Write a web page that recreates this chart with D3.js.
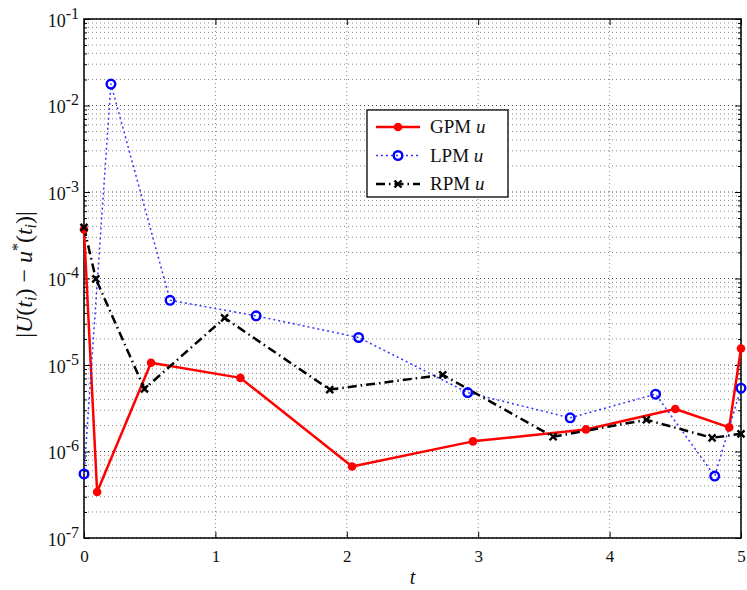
<!DOCTYPE html>
<html>
<head>
<meta charset="utf-8">
<script src="https://cdn.jsdelivr.net/npm/d3@7/dist/d3.min.js"></script>
<style>
  html, body { margin: 0; padding: 0; background: #fff; }
  svg { display: block; }
  text { font-family: "Liberation Serif", "DejaVu Serif", serif; fill: #111; }
</style>
</head>
<body>
<svg id="chart" width="747" height="590"></svg>
<script>
// Error of each method at the collocation times t_i
const gpmT = [0, 0.10, 0.51, 1.19, 2.04, 2.96, 3.82, 4.50, 4.91, 5.0];
const gpmU = [3.7e-4, 3.4e-7, 1.06e-5, 7.1e-6, 6.7e-7, 1.31e-6, 1.8e-6, 3.1e-6, 1.9e-6, 1.55e-5];

const lpmT = [0, 0.205, 0.655, 1.31, 2.09, 2.92, 3.70, 4.35, 4.80, 5.0];
const lpmU = [5.5e-7, 1.77e-2, 5.6e-5, 3.7e-5, 2.08e-5, 4.8e-6, 2.45e-6, 4.6e-6, 5.2e-7, 5.4e-6];

const rpmT = [0, 0.09, 0.46, 1.07, 1.87, 2.73, 3.57, 4.28, 4.78, 5.0];
const rpmU = [3.9e-4, 9.9e-5, 5.3e-6, 3.5e-5, 5.2e-6, 7.7e-6, 1.48e-6, 2.33e-6, 1.44e-6, 1.6e-6];

const xTicks = [0, 1, 2, 3, 4, 5];
const yExponents = [-7, -6, -5, -4, -3, -2, -1];
const seriesNames = ["GPM", "LPM", "RPM"];

const svg = d3.select("#chart");
const pL = 84, pR = 741, pT = 19, pB = 538;
const FONT = "'Liberation Serif', 'DejaVu Serif', serif";

const x = d3.scaleLinear().domain([0, 5]).range([pL, pR]);
const y = d3.scaleLog().domain([1e-7, 1e-1]).range([pB, pT]);

// minor log positions (2..9 x 10^k)
const minor = [];
for (let e = -7; e < -1; e++) for (let m = 2; m <= 9; m++) minor.push(m * Math.pow(10, e));
const majors = yExponents.map(e => Math.pow(10, e));

// grid
const grid = svg.append("g");
grid.selectAll(".hmin").data(minor).join("line")
  .attr("x1", pL).attr("x2", pR)
  .attr("y1", d => y(d)).attr("y2", d => y(d))
  .attr("stroke", "#888").attr("stroke-width", 1).attr("stroke-dasharray", "1,3");
grid.selectAll(".hmaj").data(majors).join("line")
  .attr("x1", pL).attr("x2", pR)
  .attr("y1", d => y(d)).attr("y2", d => y(d))
  .attr("stroke", "#444").attr("stroke-width", 1).attr("stroke-dasharray", "1,3");
grid.selectAll(".vmaj").data(xTicks).join("line")
  .attr("x1", d => x(d)).attr("x2", d => x(d))
  .attr("y1", pT).attr("y2", pB)
  .attr("stroke", "#888").attr("stroke-width", 1).attr("stroke-dasharray", "1,3");

// axes
const axes = svg.append("g");
const xAxis = axes.append("g").attr("transform", `translate(0,${pB})`)
  .call(d3.axisBottom(x).tickValues(xTicks).tickSizeInner(-6).tickSizeOuter(0).tickPadding(12).tickFormat(d3.format("d")));
axes.append("g").attr("transform", `translate(0,${pT})`)
  .call(d3.axisTop(x).tickValues(xTicks).tickSizeInner(-6).tickSizeOuter(0).tickFormat(""));

const yAxis = axes.append("g").attr("transform", `translate(${pL},0)`)
  .call(d3.axisLeft(y).tickValues(majors).tickSizeInner(-6).tickSizeOuter(0).tickPadding(9).tickFormat(""));
axes.append("g").attr("transform", `translate(${pL},0)`)
  .call(d3.axisLeft(y).tickValues(minor).tickSizeInner(-3).tickSizeOuter(0).tickFormat(""));
axes.append("g").attr("transform", `translate(${pR},0)`)
  .call(d3.axisRight(y).tickValues(majors).tickSizeInner(-6).tickSizeOuter(0).tickFormat(""));
axes.append("g").attr("transform", `translate(${pR},0)`)
  .call(d3.axisRight(y).tickValues(minor).tickSizeInner(-3).tickSizeOuter(0).tickFormat(""));

axes.selectAll(".domain").remove();
axes.selectAll(".tick line").attr("stroke", "#000").attr("stroke-width", 1);

xAxis.selectAll(".tick text").style("font-size", "17px").attr("fill", "#111")
  .style("font-family", FONT);

// y tick labels as 10 with superscript exponent
yAxis.selectAll(".tick").each(function(d) {
  const t = d3.select(this).select("text")
    .attr("x", -5).attr("dy", "0.4em")
    .attr("text-anchor", "end")
    .style("font-size", "18px").style("font-family", FONT).attr("fill", "#111");
  t.text(null);
  t.append("tspan").text("10");
  t.append("tspan").attr("dy", "-0.5em").style("font-size", "16px").text(String(Math.round(Math.log10(d))));
});

// frame
svg.append("rect").attr("x", pL).attr("y", pT).attr("width", pR - pL).attr("height", pB - pT)
  .attr("fill", "none").attr("stroke", "#000").attr("stroke-width", 1.5);

// axis titles
svg.append("text").attr("x", x(2.5)).attr("y", 584).attr("text-anchor", "middle")
  .style("font-size", "20px").style("font-style", "italic").style("font-family", FONT).text("t");

const yl = svg.append("text").attr("transform", `translate(32,${(pT + pB) / 2 - 4}) rotate(-90)`)
  .attr("text-anchor", "middle").style("font-size", "24px").style("font-family", FONT);
yl.append("tspan").text("|");
yl.append("tspan").style("font-style", "italic").text("U");
yl.append("tspan").text("(");
yl.append("tspan").style("font-style", "italic").text("t");
yl.append("tspan").style("font-style", "italic").style("font-size", "16px").attr("dy", "4").text("i");
yl.append("tspan").attr("dy", "-4").text(") \u2212 ");
yl.append("tspan").style("font-style", "italic").text("u");
yl.append("tspan").style("font-size", "16px").attr("dy", "-9").text("*");
yl.append("tspan").attr("dy", "9").text("(");
yl.append("tspan").style("font-style", "italic").text("t");
yl.append("tspan").style("font-style", "italic").style("font-size", "16px").attr("dy", "4").text("i");
yl.append("tspan").attr("dy", "-4").text(")|");

// series
const line = d3.line().x(d => x(d[0])).y(d => y(d[1]));
const plot = svg.append("g");

const styles = {
  GPM: { color: "#ff0000", width: 2.5, dash: null },
  LPM: { color: "#3535ff", width: 1.5, dash: "2,3" },
  RPM: { color: "#000000", width: 2.5, dash: "9,4,1.5,4" }
};

function drawMarker(g, name, px, py) {
  const s = styles[name];
  if (name === "GPM") {
    g.append("circle").attr("cx", px).attr("cy", py).attr("r", 4.3).attr("fill", s.color);
  } else if (name === "LPM") {
    g.append("circle").attr("cx", px).attr("cy", py).attr("r", 4.3)
      .attr("fill", "none").attr("stroke", "#0000ff").attr("stroke-width", 2.4);
  } else {
    const k = 3.5;
    g.append("path").attr("d", `M${px - k},${py - k}L${px + k},${py + k}M${px - k},${py + k}L${px + k},${py - k}`)
      .attr("stroke", "#000").attr("stroke-width", 2.4);
  }
}

const data = {
  GPM: d3.zip(gpmT, gpmU),
  LPM: d3.zip(lpmT, lpmU),
  RPM: d3.zip(rpmT, rpmU)
};

seriesNames.forEach(name => {
  const s = styles[name];
  plot.append("path").datum(data[name]).attr("d", line)
    .attr("fill", "none").attr("stroke", s.color).attr("stroke-width", s.width)
    .attr("stroke-dasharray", s.dash).attr("stroke-linejoin", "round");
});
seriesNames.forEach(name => {
  const g = plot.append("g");
  data[name].forEach(d => drawMarker(g, name, x(d[0]), y(d[1])));
});

// legend
const lg = svg.append("g");
lg.append("rect").attr("x", 367).attr("y", 110).attr("width", 141).attr("height", 87)
  .attr("fill", "#fff").attr("stroke", "#000").attr("stroke-width", 1.3);
seriesNames.forEach((name, i) => {
  const s = styles[name];
  const ly = 127 + i * 28.5;
  lg.append("line").attr("x1", 376).attr("x2", 420).attr("y1", ly).attr("y2", ly)
    .attr("stroke", s.color).attr("stroke-width", s.width).attr("stroke-dasharray", s.dash);
  drawMarker(lg, name, 398, ly);
  const t = lg.append("text").attr("x", 430).attr("y", ly + 6)
    .style("font-size", "19px").style("font-family", FONT);
  t.append("tspan").text(name + " ");
  t.append("tspan").style("font-style", "italic").text("u");
});
</script>
</body>
</html>
